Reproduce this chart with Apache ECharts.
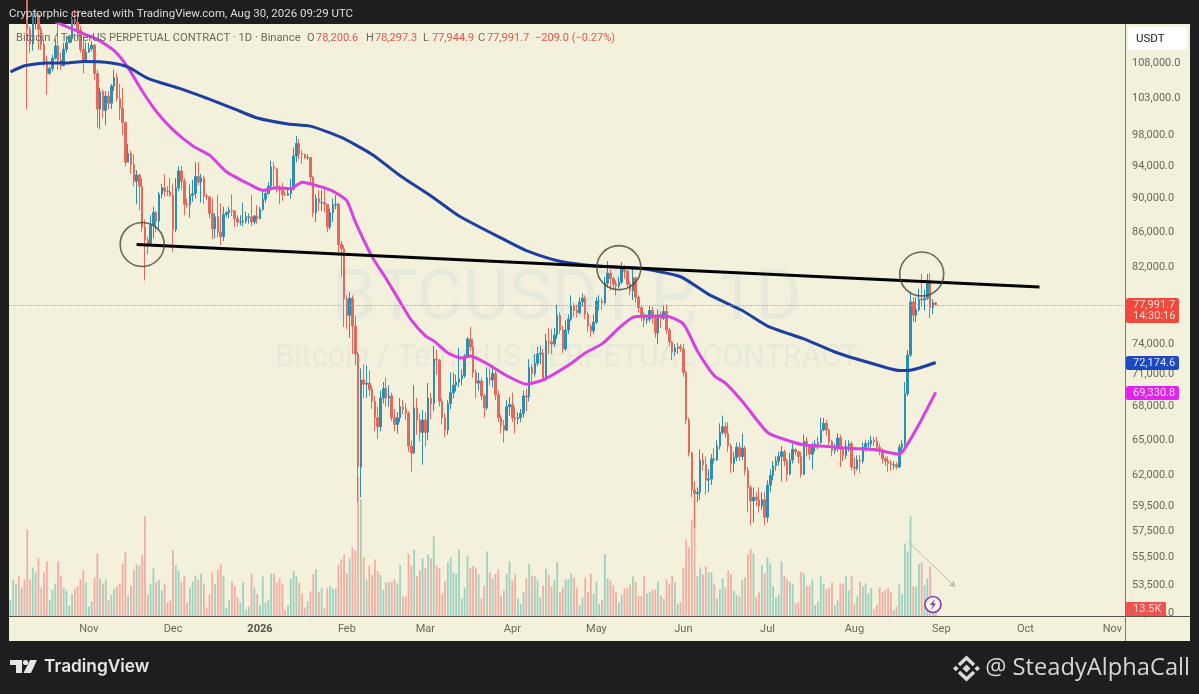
<!DOCTYPE html>
<html><head><meta charset="utf-8">
<script src="https://cdn.jsdelivr.net/npm/echarts@6/dist/echarts.min.js"></script>
<style>html,body{margin:0;padding:0;background:#1e1e1e}#c{width:1199px;height:694px}</style>
</head><body><div id="c"></div>
<script>
// Prices are in thousands of USDT, day 0 = 2025-10-04.
const closes = [
122.4,123.5,124.7,121.4,123.3,121.7,113.0,110.8,115.0,115.2,
113.0,110.7,108.2,106.5,107.2,108.7,110.5,108.4,107.6,110.0,
111.0,111.6,114.5,114.1,112.9,110.0,108.3,109.6,110.1,110.6,
106.5,101.5,103.9,101.3,103.3,102.3,104.7,105.9,103.0,101.6,
99.7,94.5,95.6,94.2,92.1,92.9,91.5,86.6,85.1,84.7,
86.8,88.3,87.3,90.5,91.3,90.9,90.8,90.4,86.3,91.3,
93.4,92.1,89.3,89.2,90.4,90.6,92.7,92.0,92.5,90.3,
90.2,88.2,86.4,87.8,86.0,85.5,88.1,88.3,88.6,88.5,
87.6,87.2,87.2,87.3,87.8,87.8,87.2,87.9,87.6,88.7,
89.9,90.6,91.5,93.9,93.7,91.3,91.0,90.5,90.4,90.6,
91.1,95.3,96.9,95.6,95.5,95.1,95.1,92.6,88.3,90.0,
89.5,89.5,89.3,86.6,88.3,89.2,89.3,84.6,84.1,78.6,
76.9,78.7,75.8,73.0,62.7,70.5,70.1,70.2,69.6,68.5,
67,66.2,68.8,69.7,68.8,69,67,66.4,67,68,
67.8,67.4,64.5,63.9,67.9,66.8,65.7,66.8,65.7,68.8,
68.3,72.5,72.4,68.5,67,65.9,68.3,69.3,70,70.3,
70.6,70.9,72.8,74.5,73.7,71.2,70.2,70.4,69,67.9,
70.7,70.5,71.1,69.1,67,66.3,65.9,68,68.2,67,
66.9,67,67.4,69,68.9,71.7,71.1,72.1,73,73.1,
70.6,74.3,74.2,74,74.9,76.9,75.4,73.5,75.4,76.5,
77.9,77.4,77.2,78.3,78.7,77,75.8,75.3,76.2,78.4,
78.4,78.2,80.3,81.4,80.8,80.2,80,80.4,82.1,81.6,
80.2,79.5,80.9,78.8,77.7,77,76.4,76.5,77.4,76.6,
75.1,77,76.6,77.3,75.4,74.2,73.2,73.6,73.7,73.5,
71.2,66.8,63.9,60.8,60.5,60.6,63.3,62.9,61.6,61.7,
63.4,63.3,64.5,65.7,66.2,65.6,64.5,63,63.5,64.4,
63.6,64.3,62.4,61,59.9,60.2,60,59.5,60,58.6,
61.2,62,62.8,63.2,63.6,64,63.2,62.1,63.3,64.2,
64,63.6,62.1,64.9,64.5,63.8,64.4,64.7,64.8,65.9,
66.5,65.9,64.9,64.1,64.3,65.2,64.2,63.7,64.5,64.7,
62.7,62.6,63.3,63.2,64.4,64.7,64.7,65,64.9,64.4,
64.1,63.4,63.2,63,62.9,62.9,62.7,64.4,64.7,69.2,
72.9,78.3,76.9,77.5,78.6,78.5,78.7,80.5,77.7,78.2,77.9917];
const highs = [
123,125.5,126,125,124,123.5,122.5,113.5,115.5,116,
115.5,113.5,111.5,109,107.5,109.2,111.5,113.9,109.5,111,
112,112,115,116,116,113.5,111.5,111,111,111.2,
110.8,107,104.5,104.2,104,104,105,107,106.5,105,
104.5,99.5,96.8,96,95.5,93.5,93,92.5,87.5,85.5,
88,89,88.5,90.8,91.8,93,91.5,92.5,91.8,92.5,
94,94,92.5,90,91.7,92.3,94.5,94.5,93,92.8,
90.6,90.3,90,88.2,90.4,89.4,89,88.5,89,90.5,
88.6,88,88,89.5,88.4,88.2,90.4,88,89.2,89,
91,91,92,94.7,94.5,93.6,91.6,91.9,90.9,91.4,
92.4,96.4,97.9,97.5,96,95.6,95.5,95.2,92.8,90.5,
91,91,91.5,89.2,88.8,90,90.4,89.5,85,84.5,
79,79.3,79,76.8,73.2,71.6,72,71.9,71.4,70,
69,68,69.5,70.3,70.7,70,69.3,67.8,67.5,68.8,
68.6,68.3,67.6,65,70,68.8,67.4,67.7,67.5,70.2,
69.3,73.8,73.4,72.5,68.8,67.4,68.6,71.2,71.2,71,
73.6,71.5,73,74.7,75.7,74.5,71.5,71.2,70.7,69.2,
71.7,71.6,71.8,71.4,69.5,67.3,66.8,68.6,68.9,69.3,
68,67.5,67.8,69.5,69.7,72.5,72,73,73.7,73.8,
73.5,75,75.6,75.5,75.6,78,77.2,75.8,76.4,77,
79,78.2,78,78.8,79.2,79,77.3,76,77,78.8,
79,78.7,81,82.7,81.8,81,80.6,81,82.6,82.3,
81.8,80.5,81.9,81,79,78,77.2,77,77.9,77.8,
77,77.5,77.3,78,78,75.6,74.3,74,74.1,74,
74,71.4,67,64,61.5,61,64.2,63.9,63.6,62.5,
63.8,64.3,65,66.5,67.2,66.6,66.6,64.7,64,64.8,
64.8,65.6,64.5,62.7,61.2,61,60.6,61,60.6,60.6,
61.6,62.5,63.2,63.6,64,64.5,64.2,63.4,63.9,64.7,
64.3,64.1,64,65.5,65.3,64.6,64.8,65,65.3,67,
67,66.8,66,65,64.7,65.6,65.5,64.4,65,65,
64.9,63.5,63.7,63.7,64.8,65,65,65.4,65.3,65.3,
64.7,64.3,63.6,63.6,63.3,63.2,63.1,64.7,65,70.3,
73.4,79.4,78.8,78.8,79.7,81.3,79.6,81.3,81.4,78.6,78.2973];
const lows = [
121.5,122,123,120.6,121,120.6,101.5,109.5,109.8,113,
109.9,109.9,107.5,103.5,106.3,106.8,108.5,107,107,107.5,
109.5,111,111,113.5,111.5,109.5,106.5,108,109.5,109.7,
105.5,99,98.8,100.3,99.3,101.5,101.5,104,102.5,100,
98,94,94.5,93,91.5,89.3,88.6,86,80.6,83.5,
84.7,85.3,86,86.3,90,90.2,90.3,90.2,83.8,86,
90.9,91,88,88.9,87.7,89.6,90,91.6,89.5,89.3,
89.8,87.6,85.2,85.3,85.4,84.5,85,87.8,87.6,87.9,
86.6,86.7,86.8,86.7,87,87,86.7,86.9,87,87.5,
88.5,89.5,90.5,91.3,91.3,90.7,89.3,89.7,90.3,90.3,
90,91,94.5,94.9,94.3,94.9,94.8,91.8,87.8,87.2,
88.5,88.5,88.3,86,86.3,87.2,88.7,83.3,81,75.7,
75.5,74.6,73,71.9,59.8,60.2,68.8,68.8,69,67.8,
65.8,65.1,65.8,68.3,68,68,66.7,65.8,65.6,66.6,
67.3,66.8,64,62.3,63.8,65.5,64.9,62.9,64.5,65,
66.9,67.6,71,68,66.4,65.3,65.5,67.8,68.8,69.4,
69.8,70,70.7,72.6,73.3,70.7,68.8,69.5,68.6,67,
67.7,70,69.8,68.6,66.6,65.6,64.8,65.8,67.2,66.6,
65.6,66.4,66.6,67,67.6,68.5,70.2,70.8,71.8,72,
70.4,70.4,73,73,73.7,74.5,75,73.1,73.3,75,
76.3,76.8,76.7,77,77.8,76.5,75.2,74.7,75,76,
77.4,77.5,78,79.8,79.5,79.6,79,79.8,80.2,80.8,
79.8,79,78.5,78.2,77.2,76.3,75.7,76,76.2,76,
74.6,74,75.6,76.4,75,73.8,72.4,72.8,73,73.2,
70.8,66.4,63.6,60.2,57.8,59.8,60,62.4,60.4,60.6,
61.2,63,63.2,64.2,65.5,65.2,64,62.2,62.3,63.2,
63.2,63.3,62,59,58,58.2,59.5,59,59.2,58,
58.2,60.6,61.6,62.4,62.8,61.5,62.8,61.5,62,63,
63.7,63,61.8,62,63.6,63.3,62.5,64,64.2,64.7,
65.8,65.4,64.5,63.6,63.8,64,62.7,63.2,63.4,64,
62.4,62,62.4,62.2,63,64,64.2,64.4,64.5,64.1,
63.7,63,62.8,62.3,62.4,62.5,62.5,62.6,64.1,64.3,
69,72.7,76.2,76.2,77.3,77.8,77.4,78.5,76.6,77,77.9449];
// Volume in thousands of BTC.
const volumes = [
32,72,64,80,57,73,173,73,97,87,
115,57,87,109,32,52,64,109,80,57,
51,20,44,55,59,73,92,67,19,29,
77,125,75,65,73,32,42,55,59,64,
104,128,41,61,92,103,101,122,199,43,
64,95,67,72,51,65,27,31,131,101,
91,67,80,27,57,69,81,72,85,65,
17,43,87,64,93,103,80,17,32,69,
60,37,27,67,13,19,85,57,44,22,
79,27,33,85,84,67,75,64,12,21,
75,90,80,67,45,17,29,49,84,93,
48,56,15,55,60,55,55,102,113,122,
84,115,137,131,276,232,117,73,100,82,
113,89,82,52,68,68,68,73,65,101,
39,39,124,100,132,80,92,115,96,123,
115,159,100,96,44,69,107,117,87,84,
133,35,57,120,96,100,96,83,35,61,
129,87,75,84,93,40,51,84,109,71,
83,35,24,48,75,104,81,79,71,37,
61,95,83,59,72,108,48,57,73,73,
84,77,57,22,37,76,48,84,45,69,
24,33,124,76,71,61,48,27,43,55,
56,63,79,68,40,40,80,45,48,53,
53,69,41,35,73,65,80,67,24,28,
96,153,137,192,240,79,97,83,99,87,
87,65,35,53,75,57,91,84,51,42,
39,72,77,124,134,125,37,47,102,85,
117,105,60,37,43,109,80,73,68,63,
25,28,88,85,60,60,73,22,29,80,
64,53,56,67,21,31,65,65,80,51,
80,25,39,68,59,65,45,56,13,22,
57,48,52,56,48,12,19,63,44,144,
129,199,59,59,104,107,61,75,99,32,13.5];
// Moving averages: day index and value.
const pinkDays = [14,16,24,31,37,42,47,52,58,65,71,77,86,90,95,100,104,109,115,120,123,129,134,139,143,148,151,156,161,164,171,177,184,190,199,205,211,217,222,227,234,240,245,251,255,261,270,277,283,289,299,308,317,319,324,330];
const pinkValues = [115,114.2,112.7,111.5,109.8,107.3,104,101.2,98.7,96.6,95.4,93.3,91.6,91,91.3,91.2,92,91.6,90.9,89.7,87.2,83.2,80.8,78.3,76.4,74.8,74.3,73.1,72.6,72.8,71.9,70.9,70.1,70.5,71.9,73.1,74,75.6,76.7,76.8,76.8,76,73.3,70.9,70.2,68.5,65.7,65,64.6,64.5,64.3,64.2,63.8,64.3,66.4,69.3308];
const blueDays = [0,5,13,20,26,36,42,49,60,70,80,88,99,107,118,129,139,150,160,177,184,196,208,225,239,249,261,270,283,295,307,317,320,330];
const blueValues = [106.7,107.6,108,108,108.2,108,107.4,105.8,104.4,103,101.5,100.3,99.5,99.2,97.7,95.5,92.8,90.3,87.9,85,83.9,82.7,82.2,81.9,81,79.1,77.4,75.8,74.5,73.1,72.1,71.4,71.4,72.1746];
const trendDays = [45,367];
const trendValues = [84.6,79.9];
const circleDays = [47,217,325];
const circleValues = [84.6,82,81.3];
const arrowDays = [320,337];
const arrowValues = [56.75,53.35];
const priceTicks = [108000,103000,98000,94000,90000,86000,82000,78000,74000,71000,68000,65000,62000,59500,57500,55500,53500,51500];
const monthNames = ['','Jan','Feb','Mar','Apr','May','Jun','Jul','Aug','Sep','Oct','Nov','Dec'];
const K = 1000, totalDays = 398, firstOpen = 121.9, lastOpen = 78.2006;

const categories = [];
for (let d = 0; d < totalDays; d++) {
  categories.push(new Date(Date.UTC(2025, 9, 4 + d)).toISOString().slice(0, 10));
}
const opens = closes.map((c, i) => i === 0 ? firstOpen : (i === closes.length - 1 ? lastOpen : closes[i - 1]));
const candleData = closes.map((c, i) => {
  const o = opens[i];
  return [o * K, c * K, Math.min(lows[i], o, c) * K, Math.max(highs[i], o, c) * K];
});
const volData = volumes.map((v, i) => ({
  value: v,
  itemStyle: { color: closes[i] >= opens[i] ? 'rgba(38,166,154,0.42)' : 'rgba(239,83,80,0.42)' }
}));
const pairs = (days, vals) => days.map((d, i) => [categories[d], vals[i] * K]);
const fmtPrice = v => Number(v).toLocaleString('en-US', { minimumFractionDigits: 1, maximumFractionDigits: 1 });
const UI = 'Roboto, "Noto Sans", sans-serif';
const greyT = '#6b695e', redT = '#e0584c';

const chart = echarts.init(document.getElementById('c'), null, { renderer: 'canvas' });
chart.setOption({
  animation: false,
  textStyle: { fontFamily: UI },
  grid: { left: 9, right: 74, top: 24, bottom: 78, containLabel: false },
  xAxis: {
    type: 'category', data: categories, boundaryGap: true,
    axisLine: { show: false }, axisTick: { show: false }, splitLine: { show: false },
    axisLabel: {
      interval: (i, v) => v.endsWith('-01'), margin: 8, fontSize: 11, color: '#6a685c', fontFamily: UI,
      formatter: v => {
        const m = +v.slice(5, 7);
        return m === 1 ? '{y|' + v.slice(0, 4) + '}' : monthNames[m];
      },
      rich: { y: { fontWeight: 'bold', fontSize: 11, color: '#55534a', fontFamily: UI } }
    }
  },
  yAxis: [{
    type: 'log', logBase: 10, min: 51310, max: 113820, position: 'right',
    axisLine: { show: false }, axisTick: { show: false }, splitLine: { show: false }, minorSplitLine: { show: false },
    axisLabel: { customValues: priceTicks, formatter: fmtPrice, fontSize: 11, color: '#6a685c', margin: 7, fontFamily: UI, showMinLabel: true, showMaxLabel: true }
  }, {
    type: 'value', min: 0, max: 1182, show: false, splitLine: { show: false }
  }],
  series: [{
    type: 'bar', name: 'Volume', yAxisIndex: 1, data: volData, barWidth: 1.8, z: 1, silent: true
  }, {
    type: 'candlestick', name: 'BTCUSDT.P', data: candleData, barWidth: 2, z: 2, clip: true,
    itemStyle: { color: '#2f8db0', color0: '#e2695c', borderColor: '#2f8db0', borderColor0: '#e2695c', borderWidth: 1 },
    markLine: {
      silent: true, symbol: 'none', animation: false, label: { show: false },
      lineStyle: { type: 'dotted', color: '#ee8f7e', width: 1 },
      data: [{ yAxis: closes[closes.length - 1] * K }]
    }
  }, {
    type: 'line', name: 'MA pink', data: pairs(pinkDays, pinkValues), smooth: 0.2, showSymbol: false, clip: true, z: 3,
    lineStyle: { color: '#d840e0', width: 3 }, silent: true
  }, {
    type: 'line', name: 'MA blue', data: pairs(blueDays, blueValues), smooth: 0.2, showSymbol: false, clip: true, z: 3,
    lineStyle: { color: '#1d3f9f', width: 3 }, silent: true
  }, {
    type: 'line', name: 'Trend', data: pairs(trendDays, trendValues), showSymbol: false, z: 4,
    lineStyle: { color: '#000', width: 3 }, silent: true,
    markLine: {
      silent: true, symbol: ['none', 'arrow'], symbolSize: 6, animation: false, label: { show: false },
      lineStyle: { type: 'solid', color: '#bdbcaa', width: 1 },
      data: [[{ coord: [categories[arrowDays[0]], arrowValues[0] * K] }, { coord: [categories[arrowDays[1]], arrowValues[1] * K] }]]
    }
  }, {
    type: 'scatter', name: 'Circles', data: pairs(circleDays, circleValues), symbol: 'circle', symbolSize: 44, z: 5, silent: true,
    itemStyle: { color: 'rgba(0,0,0,0)', borderColor: '#4a4636', borderWidth: 1.6 }
  }],
  graphic: { elements: [
    { type: 'rect', z: -10, silent: true, shape: { x: 9, y: 24, width: 1181, height: 617 }, style: { fill: '#f3f0dc' } },
    { type: 'text', z: -5, silent: true, x: 567, y: 301, style: { text: 'BTCUSDT.P, 1D', font: '71px Roboto, sans-serif', fill: 'rgba(130,180,210,0.1)', textAlign: 'center', textVerticalAlign: 'middle' } },
    { type: 'text', z: -5, silent: true, x: 567, y: 358, style: { text: 'Bitcoin / TetherUS PERPETUAL CONTRACT', font: '30.5px Roboto, sans-serif', fill: 'rgba(130,180,210,0.1)', textAlign: 'center', textVerticalAlign: 'middle' } },
    { type: 'line', z: 50, silent: true, shape: { x1: 9, y1: 616.5, x2: 1190, y2: 616.5 }, style: { stroke: '#55534a', lineWidth: 1 } },
    { type: 'line', z: 50, silent: true, shape: { x1: 1125.5, y1: 24, x2: 1125.5, y2: 641 }, style: { stroke: '#7c7a6c', lineWidth: 1 } },
    { type: 'text', z: 60, silent: true, x: 9, y: 14, style: { text: 'Cryptorphic created with TradingView.com, Aug 30, 2026 09:29 UTC', font: '11.5px Roboto, sans-serif', fill: '#dcdcdc', textVerticalAlign: 'middle' } },
    { type: 'text', z: 60, silent: true, x: 16, y: 38, style: { text: 'Bitcoin / TetherUS PERPETUAL CONTRACT · 1D · Binance', font: '11.2px Roboto, sans-serif', fill: greyT, textVerticalAlign: 'middle' } },
    ...[['O', '78,200.6', 307], ['H', '78,297.3', 366], ['L', '77,944.9', 423], ['C', '77,991.7', 478]].flatMap(t => [
      { type: 'text', z: 60, silent: true, x: t[2], y: 38, style: { text: t[0], font: '11px Roboto, sans-serif', fill: greyT, textVerticalAlign: 'middle' } },
      { type: 'text', z: 60, silent: true, x: t[2] + 9, y: 38, style: { text: t[1], font: '11px Roboto, sans-serif', fill: redT, textVerticalAlign: 'middle' } }
    ]),
    { type: 'text', z: 60, silent: true, x: 535, y: 38, style: { text: '−209.0 (−0.27%)', font: '11px Roboto, sans-serif', fill: redT, textVerticalAlign: 'middle' } },
    { type: 'rect', z: 60, silent: true, shape: { x: 1128, y: 27, width: 59, height: 23, r: 3 }, style: { fill: '#ffffff' } },
    { type: 'text', z: 61, silent: true, x: 1136, y: 39, style: { text: 'USDT', font: '11.5px Roboto, sans-serif', fill: '#222', textVerticalAlign: 'middle' } },
    { type: 'rect', z: 60, silent: true, shape: { x: 1126, y: 298, width: 53, height: 25, r: 2 }, style: { fill: '#f0483c' } },
    { type: 'text', z: 61, silent: true, x: 1133, y: 305, style: { text: '77,991.7', font: '11px Roboto, sans-serif', fill: '#fbd9d2', textVerticalAlign: 'middle' } },
    { type: 'text', z: 61, silent: true, x: 1133, y: 316, style: { text: '14:30:16', font: '11px Roboto, sans-serif', fill: '#fbd9d2', textVerticalAlign: 'middle' } },
    { type: 'rect', z: 60, silent: true, shape: { x: 1126, y: 356, width: 53, height: 14, r: 2 }, style: { fill: '#1c48c0' } },
    { type: 'text', z: 61, silent: true, x: 1133, y: 363, style: { text: '72,174.6', font: '11px Roboto, sans-serif', fill: '#dfe7fb', textVerticalAlign: 'middle' } },
    { type: 'rect', z: 60, silent: true, shape: { x: 1126, y: 386, width: 53, height: 14, r: 2 }, style: { fill: '#e024ea' } },
    { type: 'text', z: 61, silent: true, x: 1133, y: 393, style: { text: '69,330.8', font: '11px Roboto, sans-serif', fill: '#f9d5fb', textVerticalAlign: 'middle' } },
    { type: 'rect', z: 60, silent: true, shape: { x: 1126, y: 602, width: 40, height: 14, r: 1 }, style: { fill: '#ef5350' } },
    { type: 'text', z: 61, silent: true, x: 1133, y: 609, style: { text: '13.5K', font: '11px Roboto, sans-serif', fill: '#fbd9d2', textVerticalAlign: 'middle' } },
    { type: 'circle', z: 60, silent: true, shape: { cx: 933, cy: 604.5, r: 8 }, style: { fill: '#f6f3ea', stroke: '#8a3fa8', lineWidth: 1.6 } },
    { type: 'polygon', z: 61, silent: true, shape: { points: [[935, 599], [930, 605], [933, 605], [931, 610], [936, 603.5], [933.3, 603.5]] }, style: { fill: '#7d3aa0' } },
    // TradingView logo
    { type: 'polygon', z: 60, silent: true, shape: { points: [[10, 660], [22, 660], [22, 673], [16, 673], [16, 665], [10, 665]] }, style: { fill: '#e6e6e6' } },
    { type: 'circle', z: 60, silent: true, shape: { cx: 25.5, cy: 662.5, r: 2.6 }, style: { fill: '#e6e6e6' } },
    { type: 'polygon', z: 60, silent: true, shape: { points: [[30, 660], [37, 660], [31, 673], [23.5, 673]] }, style: { fill: '#e6e6e6' } },
    { type: 'text', z: 60, silent: true, x: 44, y: 667, style: { text: 'TradingView', font: '600 17.3px Inter, Roboto, sans-serif', fill: '#e6e6e6', textVerticalAlign: 'middle' } },
    // Binance-style mark
    { type: 'polyline', z: 60, silent: true, shape: { points: [[959, 665], [966.5, 658], [974, 665]] }, style: { stroke: '#d8d8d8', lineWidth: 3.5, fill: 'none' } },
    { type: 'polyline', z: 60, silent: true, shape: { points: [[959, 672], [966.5, 679], [974, 672]] }, style: { stroke: '#d8d8d8', lineWidth: 3.5, fill: 'none' } },
    { type: 'polygon', z: 60, silent: true, shape: { points: [[953, 668.5], [955.8, 665.7], [958.6, 668.5], [955.8, 671.3]] }, style: { fill: '#d8d8d8' } },
    { type: 'polygon', z: 60, silent: true, shape: { points: [[974.4, 668.5], [977.2, 665.7], [980, 668.5], [977.2, 671.3]] }, style: { fill: '#d8d8d8' } },
    { type: 'polygon', z: 60, silent: true, shape: { points: [[962.5, 668.5], [966.5, 664.5], [970.5, 668.5], [966.5, 672.5]] }, style: { fill: '#d8d8d8' } },
    { type: 'text', z: 60, silent: true, x: 1190, y: 668, style: { text: '@ SteadyAlphaCall', font: '23.7px "Open Sans", sans-serif', fill: '#d6d6d6', textAlign: 'right', textVerticalAlign: 'middle' } }
  ] }
});
</script></body></html>
